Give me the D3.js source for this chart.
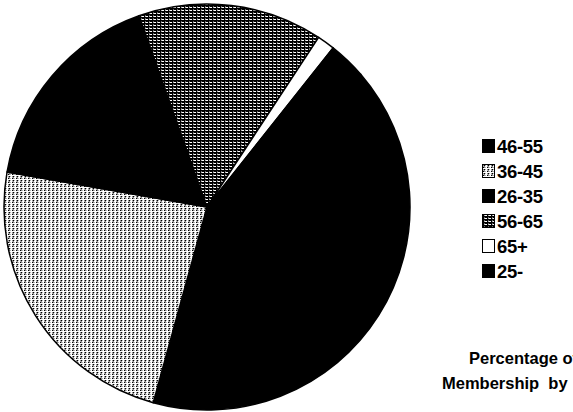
<!DOCTYPE html>
<html>
<head>
<meta charset="utf-8">
<script src="https://cdn.jsdelivr.net/npm/d3@7"></script>
<style>
  html, body { margin: 0; padding: 0; background: #fff; overflow: hidden; }
  svg { display: block; }
  text { font-family: "Liberation Sans", Arial, sans-serif; font-weight: bold; fill: #000; }
</style>
</head>
<body>
<svg id="chart" width="573" height="412"></svg>
<script>
// Membership share by age group (percent)
const ageGroups = ["46-55", "36-45", "26-35", "56-65", "65+", "25-"];
const shares    = [40.6, 23.5, 16.8, 14.7, 1.4, 3.0];
const fills     = ["solid", "light", "solid", "dark", "white", "solid"];
const titleLines = ["Percentage of", "Membership  by"];

const svg = d3.select("#chart");
const defs = svg.append("defs");

// Dithered fill tiles: each row string is a run of pixel codes
const palette = { k: "#000", w: "#fff", g: "#8a8a8a", m: "#6a6a6a", s: "#b5b5b5" };
const tiles = {
  light: ["wwww", "wgks", "wsgw", "wkgs"],
  dark:  ["kkmk", "wksw", "kkkk"]
};
Object.entries(tiles).forEach(([id, rows]) => {
  const p = defs.append("pattern")
    .attr("id", "pat-" + id)
    .attr("patternUnits", "userSpaceOnUse")
    .attr("width", rows[0].length)
    .attr("height", rows.length);
  rows.forEach((row, y) => {
    row.split("").forEach((c, x) => {
      p.append("rect")
        .attr("x", x).attr("y", y)
        .attr("width", 1).attr("height", 1)
        .attr("shape-rendering", "crispEdges")
        .attr("fill", palette[c]);
    });
  });
});

const fillFor = f => f === "solid" ? "#000" : f === "white" ? "#fff" : `url(#pat-${f})`;

// Pie
const cx = 207, cy = 207, radius = 203;
const startDeg = 49.2;
const pie = d3.pie()
  .sort(null)
  .startAngle(startDeg * Math.PI / 180)
  .endAngle(startDeg * Math.PI / 180 + 2 * Math.PI);
const arc = d3.arc().innerRadius(0).outerRadius(radius);

const data = ageGroups.map((g, i) => ({ group: g, value: shares[i], fill: fills[i] }));

svg.append("g")
  .attr("transform", `translate(${cx},${cy})`)
  .selectAll("path")
  .data(pie.value(d => d.value)(data))
  .join("path")
  .attr("d", arc)
  .attr("fill", d => fillFor(d.data.fill))
  .attr("stroke", "#000")
  .attr("stroke-width", 1.5)
  .attr("stroke-linejoin", "round");

// Legend
const legend = svg.append("g").attr("transform", "translate(482,139)");
const rowGap = 25;
const item = legend.selectAll("g")
  .data(data)
  .join("g")
  .attr("transform", (d, i) => `translate(0,${i * rowGap})`);

item.append("rect")
  .attr("x", 0.5).attr("y", 0.5)
  .attr("width", 12).attr("height", 13)
  .attr("fill", d => fillFor(d.fill))
  .attr("stroke", "#000")
  .attr("stroke-width", 1);

item.append("text")
  .attr("x", 15)
  .attr("y", 14)
  .attr("font-size", 18.5)
  .attr("letter-spacing", -0.3)
  .text(d => d.group);

// Title, set in two lines at the lower right
const titleX = [469, 442];
svg.append("g")
  .selectAll("text")
  .data(titleLines)
  .join("text")
  .attr("x", (d, i) => titleX[i])
  .attr("y", (d, i) => 364 + i * 25)
  .attr("font-size", 16.5)
  .style("white-space", "pre")
  .text(d => d);
</script>
</body>
</html>
